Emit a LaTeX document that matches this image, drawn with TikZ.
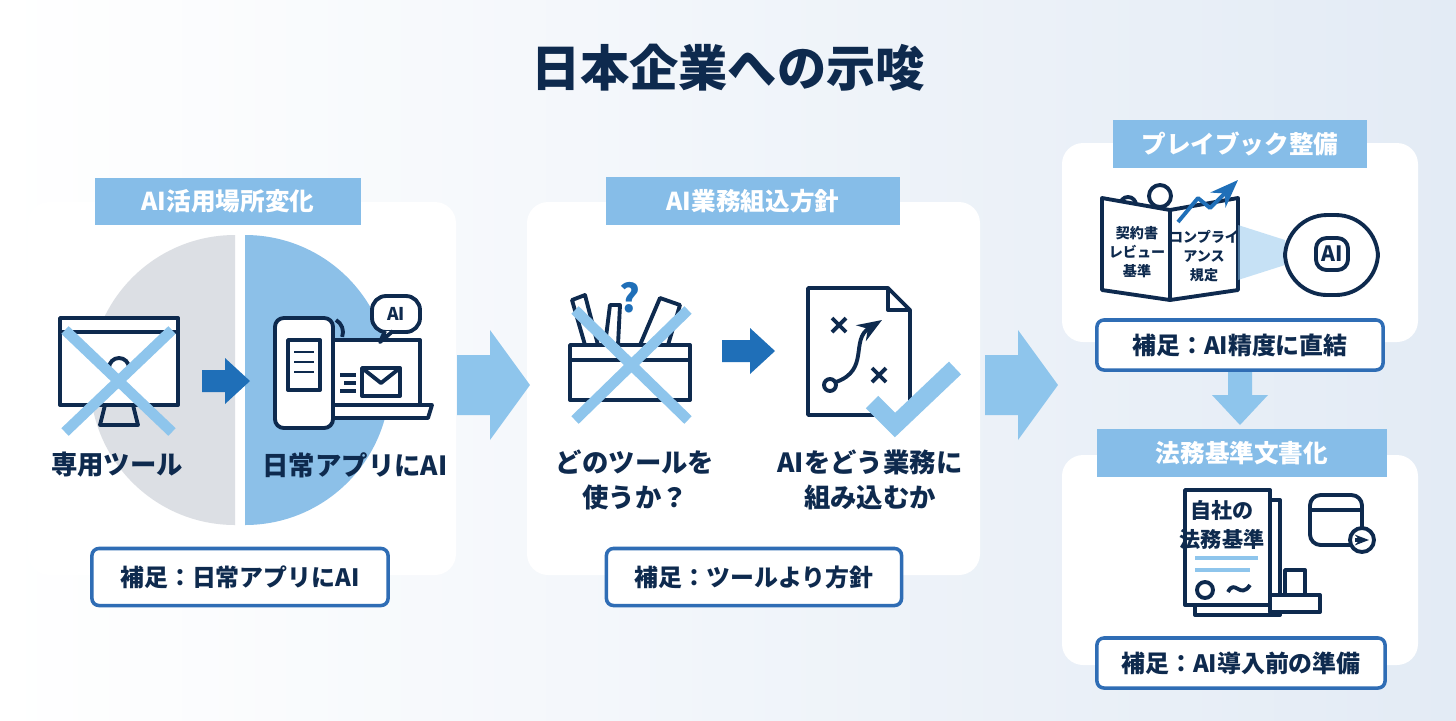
\documentclass[tikz,border=0pt]{standalone}
\usepackage{fontspec}
\setmainfont{Noto Sans CJK JP}
\usetikzlibrary{positioning,arrows.meta}
\definecolor{navy}{HTML}{0E2A4E}
\definecolor{header}{HTML}{86BDE8}
\definecolor{frame}{HTML}{2F6DB5}
\definecolor{deep}{HTML}{1F6FB8}
\definecolor{pale}{HTML}{8EC5EC}
\definecolor{halfgray}{HTML}{DCDFE4}
\definecolor{halfblue}{HTML}{8CC0E8}
\definecolor{bgend}{HTML}{E3EBF5}
\tikzset{
  panel/.style={fill=white, rounded corners=6pt, draw=none},
  headbox/.style={fill=header, text=white, font=\bfseries\fontsize{7}{8}\selectfont, minimum height=0.42cm, inner xsep=8pt},
  notebox/.style={fill=white, draw=frame, line width=1pt, rounded corners=2pt, text=navy, font=\bfseries\fontsize{6.8}{8}\selectfont, minimum height=0.5cm},
  caption/.style={text=navy, font=\bfseries\fontsize{7.5}{10}\selectfont, align=center},
  icon/.style={draw=navy, line width=1.1pt, line join=round},
  cross/.style={draw=pale, line width=3pt},
  bigarrow/.style={fill=pale},
  smallarrow/.style={fill=deep},
}
\begin{document}
\begin{tikzpicture}[x=0.01cm,y=-0.01cm]
  % background
  \shade[left color=white, right color=bgend] (0,0) rectangle (1456,720);
  \useasboundingbox (0,0) rectangle (1456,720);
  \node[text=navy, font=\bfseries\fontsize{14}{16}\selectfont] (title) at (728,68) {日本企業への示唆};

  % panels
  \fill[panel] (28,202) rectangle (456,575);
  \fill[panel] (527,202) rectangle (980,575);
  \fill[panel] (1062,143) rectangle (1418,342);
  \fill[panel] (1062,455) rectangle (1418,665);

  % big arrows
  \fill[bigarrow] (457,355) -- (490,355) -- (490,330) -- (530,385) -- (490,440) -- (490,415) -- (457,415) -- cycle;
  \fill[bigarrow] (985,355) -- (1018,355) -- (1018,330) -- (1058,385) -- (1018,440) -- (1018,415) -- (985,415) -- cycle;
  \fill[bigarrow] (1228,368) -- (1252,368) -- (1252,395) -- (1268,395) -- (1240,425) -- (1212,395) -- (1228,395) -- cycle;

  % panel 1: half circles
  \fill[halfgray] (235,235) arc[start angle=-90, end angle=-270, radius=145] -- cycle;
  \fill[halfblue] (245,235) arc[start angle=-90, end angle=90, radius=145] -- cycle;
  % monitor
  \draw[icon, fill=white] (60,318) rectangle (178,405);
  \draw[icon] (60,332) -- (178,332);
  \draw[icon] (105,405) -- (100,425) -- (138,425) -- (133,405);
  \draw[icon] (119,368) circle (10);
  \draw[cross] (65,330) -- (172,432) (172,330) -- (65,432);
  \node[caption] (dedicated) at (117,465) {専用ツール};
  \fill[smallarrow] (202,370) -- (225,370) -- (225,358) -- (250,381) -- (225,404) -- (225,392) -- (202,392) -- cycle;
  % phone and laptop
  \draw[icon, fill=white] (332,340) rectangle (420,405);
  \draw[icon, fill=white] (322,405) -- (432,405) -- (428,418) -- (326,418) -- cycle;
  \draw[icon, fill=white] (362,368) rectangle (400,396);
  \draw[icon] (362,368) -- (381,383) -- (400,368);
  \draw[icon] (340,375) -- (356,375) (344,383) -- (356,383) (340,391) -- (356,391);
  \draw[icon, fill=white, rounded corners=2.5pt] (275,318) rectangle (333,428);
  \draw[icon, fill=white] (288,340) rectangle (320,390);
  \draw[icon, line width=0.7pt] (294,352) -- (314,352) (294,362) -- (314,362) (294,372) -- (314,372);
  \draw[icon] (336,320) arc[start angle=-60, end angle=20, radius=14];
  \draw[icon, fill=white, rounded corners=4pt] (372,296) rectangle (420,332);
  \draw[icon, fill=white] (385,331) -- (380,342) -- (393,331);
  \node[text=navy, font=\bfseries\fontsize{5}{5}\selectfont] (bubble) at (396,314) {AI};
  \node[caption] (everyday) at (355,465) {日常アプリにAI};

  % panel 2: toolbox
  \draw[icon, fill=white] (570,345) rectangle (690,400);
  \draw[icon] (570,360) -- (690,360);
  \draw[icon] (585,345) -- (572,300) -- (585,295) -- (598,345);
  \draw[icon] (605,345) -- (610,305) -- (620,305) -- (618,345);
  \draw[icon] (640,345) -- (660,298) -- (680,305) -- (668,345);
  \node[text=deep, font=\bfseries\fontsize{11}{11}\selectfont] (question) at (630,298) {?};
  \draw[cross] (575,310) -- (688,420) (688,310) -- (575,420);
  \node[caption] (which) at (635,480) {どのツールを\\使うか？};
  \fill[smallarrow] (722,340) -- (750,340) -- (750,328) -- (775,351) -- (750,374) -- (750,362) -- (722,362) -- cycle;
  % strategy document
  \draw[icon, fill=white] (808,288) -- (888,288) -- (910,310) -- (910,415) -- (808,415) -- cycle;
  \draw[icon] (888,288) -- (888,310) -- (910,310);
  \draw[icon] (832,318) -- (846,332) (846,318) -- (832,332);
  \draw[icon] (872,368) -- (886,382) (886,368) -- (872,382);
  \draw[icon] (830,385) circle (6);
  \draw[icon, -{Stealth[length=7pt]}] (836,382) .. controls (870,370) and (850,340) .. (882,320);
  \draw[cross, line width=5pt] (872,402) -- (895,425) -- (955,368);
  \node[caption] (embed) at (870,480) {AIをどう業務に\\組み込むか};

  % panel 3: playbook
  \draw[icon] (1128,205) circle (8) (1160,196) circle (11);
  \draw[icon, fill=white] (1102,198) -- (1170,210) -- (1170,300) -- (1102,290) -- cycle;
  \draw[icon, fill=white] (1170,210) -- (1238,198) -- (1238,290) -- (1170,300) -- cycle;
  \draw[icon, deep, -{Stealth[length=8pt]}] (1178,222) -- (1198,198) -- (1210,208) -- (1238,180);
  \node[text=navy, font=\bfseries\fontsize{4}{5.5}\selectfont, align=center] (contract) at (1137,252) {契約書\\レビュー\\基準};
  \node[text=navy, font=\bfseries\fontsize{4}{5.5}\selectfont, align=center] (compliance) at (1204,256) {コンプライ\\アンス\\規定};
  \fill[pale, opacity=0.5] (1238,225) -- (1285,240) -- (1285,265) -- (1238,280) -- cycle;
  \draw[icon, fill=white, rounded corners=12pt] (1285,215) rectangle (1378,295);
  \draw[icon, fill=white, rounded corners=3pt] (1316,238) rectangle (1348,270);
  \node[text=navy, font=\bfseries\fontsize{6}{6}\selectfont] (brain) at (1332,254) {AI};
  \node[headbox] (playbook) at (1240,144) {プレイブック整備};
  \node[notebox, minimum width=2.86cm] (accuracy) at (1240,345) {補足：AI精度に直結};

  % panel 4: standards document
  \draw[icon, fill=white] (1195,500) rectangle (1280,615);
  \draw[icon, fill=white] (1185,490) rectangle (1270,605);
  \node[text=navy, font=\bfseries\fontsize{6}{8}\selectfont, align=center] (ownrules) at (1222,525) {自社の\\法務基準};
  \draw[icon, pale] (1195,558) -- (1258,558) (1195,570) -- (1250,570);
  \draw[icon] (1205,590) circle (8);
  \draw[icon] (1228,592) .. controls (1235,578) and (1240,600) .. (1250,585);
  \draw[icon, fill=white] (1285,570) rectangle (1305,595);
  \draw[icon, fill=white] (1270,595) rectangle (1320,612);
  \draw[icon, fill=white, rounded corners=3pt] (1310,495) rectangle (1362,545);
  \draw[icon] (1310,510) -- (1362,510);
  \draw[icon, fill=white] (1362,540) circle (12);
  \draw[icon, -{Stealth[length=4pt]}] (1355,540) -- (1369,540);

  % headers and notes
  \node[headbox, minimum width=2.65cm] (placechange) at (228,201) {AI活用場所変化};
  \node[headbox, minimum width=2.93cm] (policy) at (753,201) {AI業務組込方針};
  \node[headbox, minimum width=2.9cm] (codify) at (1242,453) {法務基準文書化};
  \node[notebox, minimum width=2.96cm, minimum height=0.57cm] (note1) at (240,577) {補足：日常アプリにAI};
  \node[notebox, minimum width=2.95cm, minimum height=0.57cm] (note2) at (754,577) {補足：ツールより方針};
  \node[notebox, minimum width=2.88cm] (note4) at (1241,663) {補足：AI導入前の準備};
\end{tikzpicture}
\end{document}
